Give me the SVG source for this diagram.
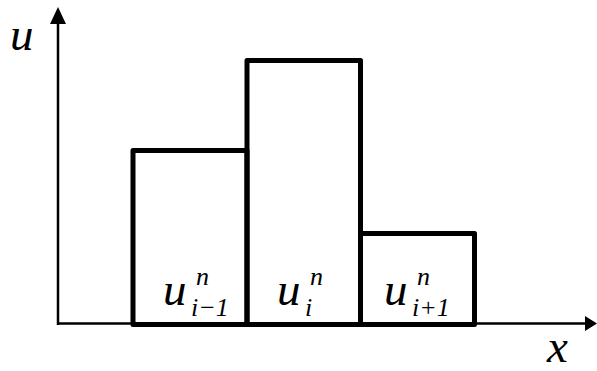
<svg xmlns="http://www.w3.org/2000/svg" width="597" height="371" viewBox="0 0 597 371">
<style>
.bar{fill:none;stroke:#000;stroke-width:5;stroke-linejoin:round}
.ax{stroke:#000;stroke-width:2.5;fill:none}
</style>
<rect width="597" height="371" fill="#fff"/>
<g id="connectors">
<line class="ax" x1="58" y1="325" x2="58" y2="22"/>
<polygon points="58,7 50,24 66,24" fill="#000"/>
<line class="ax" x1="57" y1="323.5" x2="587" y2="323.5"/>
<polygon points="597,323.5 585,316 585,331" fill="#000"/>
</g>
<g id="axis-u"><text style="font-family:'Liberation Serif',serif !important;font-style:italic !important" font-size="47" x="10" y="50">u</text></g>
<g id="axis-x"><text style="font-family:'Liberation Serif',serif !important;font-style:italic !important" font-size="47" x="547" y="362">x</text></g>
<g id="bar1">
<rect class="bar" x="133" y="150.5" width="114" height="174"/>
<text style="font-family:'Liberation Serif',serif !important;font-style:italic !important" font-size="47" x="163" y="305">u</text>
<text style="font-family:'Liberation Serif',serif !important;font-style:italic !important" font-size="26" x="196" y="285">n</text>
<text style="font-family:'Liberation Serif',serif !important;font-style:italic !important" font-size="26" x="191" y="316">i−1</text>
</g>
<g id="bar2">
<rect class="bar" x="247" y="60.5" width="113.5" height="264"/>
<text style="font-family:'Liberation Serif',serif !important;font-style:italic !important" font-size="47" x="277" y="305">u</text>
<text style="font-family:'Liberation Serif',serif !important;font-style:italic !important" font-size="26" x="310" y="285">n</text>
<text style="font-family:'Liberation Serif',serif !important;font-style:italic !important" font-size="26" x="305" y="316">i</text>
</g>
<g id="bar3">
<rect class="bar" x="360.5" y="233.5" width="114" height="91"/>
<text style="font-family:'Liberation Serif',serif !important;font-style:italic !important" font-size="47" x="384" y="305">u</text>
<text style="font-family:'Liberation Serif',serif !important;font-style:italic !important" font-size="26" x="417" y="285">n</text>
<text style="font-family:'Liberation Serif',serif !important;font-style:italic !important" font-size="26" x="412" y="316">i+1</text>
</g>
</svg>
